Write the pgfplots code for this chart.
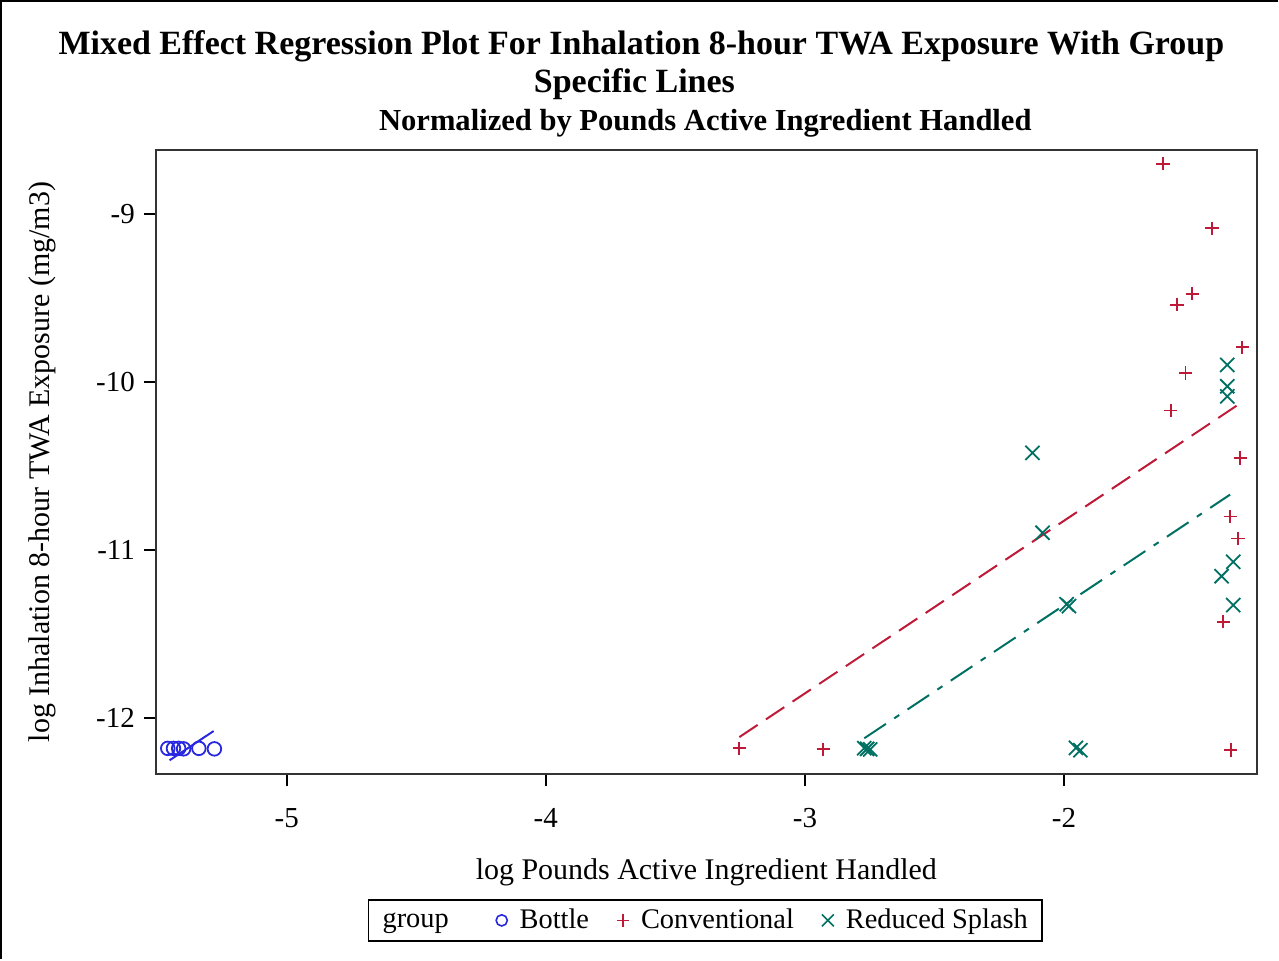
\documentclass[border=0pt]{standalone}
\usepackage{fontspec}
\setmainfont{Liberation Serif}
\usepackage{pgfplots}
\pgfplotsset{compat=1.18}

\definecolor{sasblue}{RGB}{40,40,225}
\definecolor{sasred}{RGB}{190,25,55}
\definecolor{sasteal}{RGB}{0,112,98}

\begin{document}
\begin{tikzpicture}
% page extent (1 px = 0.5pt), axis box lower left at origin
\path (-78pt,-92.5pt) rectangle (561.5pt,387.5pt);
\draw[line width=1.2pt] (-77.4pt,-92.5pt) -- (-77.4pt,386.9pt) -- (561.5pt,386.9pt);

\node[font=\fontsize{17}{19}\selectfont\bfseries] at (243pt,364.5pt) {Mixed Effect Regression Plot For Inhalation 8-hour TWA Exposure With Group};
\node[font=\fontsize{17}{19}\selectfont\bfseries] at (239.5pt,345.5pt) {Specific Lines};
\node[font=\fontsize{15.3}{17}\selectfont\bfseries] at (275pt,326pt) {Normalized by Pounds Active Ingredient Handled};

\begin{axis}[
    at={(0,0)}, anchor=south west,
    scale only axis,
    width=551pt, height=312.5pt,
    xmin=-5.505, xmax=-1.256,
    ymin=-12.333, ymax=-8.62,
    axis line style={black!80, line width=1pt},
    tick align=outside,
    xtick pos=bottom, ytick pos=left,
    major tick length=6pt,
    tick style={black, line width=0.9pt},
    xtick={-5,-4,-3,-2},
    xticklabels={-5,-4,-3,-2},
    ytick={-12,-11,-10,-9},
    yticklabels={-12,-11,-10,-9},
    ticklabel style={font=\fontsize{14.5}{16}\selectfont},
    xticklabel style={yshift=-7.5pt},
    yticklabel style={xshift=-1pt},
    xlabel={log Pounds Active Ingredient Handled},
    ylabel={log Inhalation 8-hour TWA Exposure (mg/m3)},
    label style={font=\fontsize{15}{17}\selectfont},
    xlabel style={at={(axis description cs:0.5,-0.157)}, anchor=center},
    ylabel style={at={(axis description cs:-0.1034,0.5)}, anchor=center},
    legend columns=-1,
    legend image code/.code={\path[draw=none, fill=none] (-7pt,0pt) rectangle (7pt,0.1pt); \draw[#1] plot coordinates {(0pt,0pt)};},
    legend style={at={(0.499,-0.2)}, anchor=north, draw=black, line width=0.9pt,
        font=\fontsize{14.2}{16}\selectfont, inner xsep=5pt, inner ysep=2.5pt,
        /tikz/every even column/.append style={column sep=8pt}},
    clip=false,
]

% Bottle
\addplot[only marks, mark=o, mark size=3.4pt, sasblue, line width=0.9pt, forget plot] coordinates {
(-5.459,-12.179) (-5.437,-12.179) (-5.417,-12.179) (-5.398,-12.182)
(-5.339,-12.179) (-5.279,-12.182)
};
\addplot[sasblue, line width=1pt, forget plot] coordinates {(-5.452,-12.250) (-5.282,-12.076)};

% Conventional
\addplot[only marks, mark=+, mark size=3.3pt, sasred, line width=0.9pt, forget plot] coordinates {
(-3.253,-12.179) (-2.929,-12.185)
(-1.618,-8.703) (-1.429,-9.087) (-1.505,-9.475) (-1.564,-9.541)
(-1.312,-9.793) (-1.531,-9.947) (-1.588,-10.170) (-1.320,-10.452)
(-1.359,-10.800) (-1.329,-10.931) (-1.385,-11.426) (-1.357,-12.189)
};
\addplot[sasred, line width=1pt, dash pattern=on 11pt off 5pt, forget plot] coordinates {(-3.253,-12.112) (-1.314,-10.121)};

% Reduced Splash
\addplot[only marks, mark=x, mark size=5pt, sasteal, line width=0.9pt, forget plot] coordinates {
(-1.370,-9.899) (-1.370,-10.026) (-1.370,-10.086)
(-2.122,-10.422) (-2.083,-10.897)
(-1.990,-11.322) (-1.981,-11.333)
(-1.347,-11.070) (-1.392,-11.155) (-1.347,-11.327)
(-1.954,-12.176) (-1.937,-12.190)
(-2.771,-12.178) (-2.760,-12.182) (-2.748,-12.185)
};
\addplot[sasteal, line width=1pt, dash pattern=on 13pt off 5pt on 3pt off 5pt, forget plot] coordinates {(-2.771,-12.119) (-1.359,-10.670)};

\addlegendimage{legend image code/.code={}}
\addlegendentry{\raisebox{-1pt}{group}\kern9.5pt}
\addlegendimage{only marks, mark=o, mark size=2.8pt, sasblue, line width=0.8pt}
\addlegendentry{Bottle}
\addlegendimage{only marks, mark=+, mark size=3.2pt, sasred, line width=0.8pt}
\addlegendentry{Conventional}
\addlegendimage{only marks, mark=x, mark size=4.2pt, sasteal, line width=0.8pt}
\addlegendentry{Reduced Splash}
\end{axis}
\end{tikzpicture}
\end{document}
